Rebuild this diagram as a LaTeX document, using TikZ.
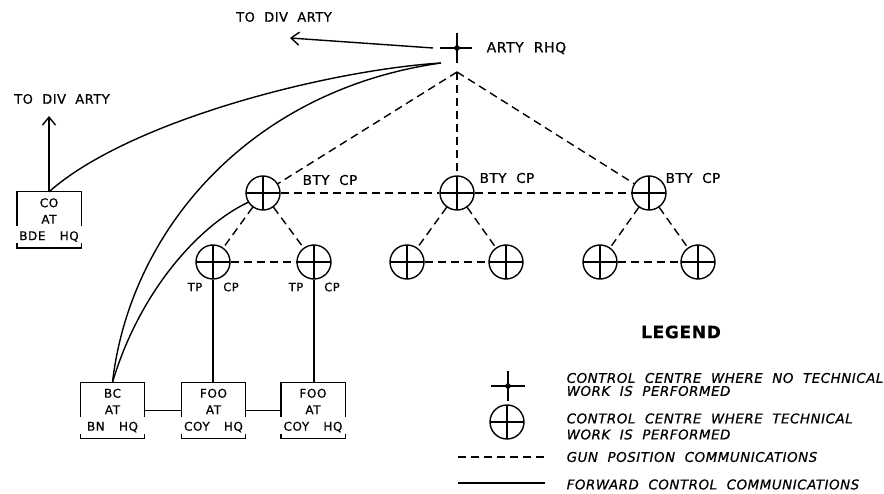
\documentclass[tikz,border=0pt]{standalone}
\usepackage{fontspec}
\setmainfont{DejaVu Sans}
\newfontfamily\lett[LetterSpace=4,WordSpace=2,FakeBold=0.6]{DejaVu Sans}
\newfontfamily\boxlett[LetterSpace=5,WordSpace=3.2,FakeBold=0.6]{DejaVu Sans}
\usetikzlibrary{arrows.meta,calc}
\newcommand\hqborder[1]{%
  \draw ($(#1.south west)+(0,-22)$) |- (#1.north east) -- ($(#1.south east)+(0,-22)$);
  \draw ($(#1.south west)+(0,-5)$) -- (#1.south west) -- (#1.south east) -- ($(#1.south east)+(0,-5)$);}
\begin{document}
\begin{tikzpicture}[x=1pt,y=-1pt,line width=1.4pt,
  every node/.style={font=\lett\fontsize{13}{14}\selectfont},
  tc/.style={circle,draw,minimum size=34pt,inner sep=0pt,
    path picture={\draw[line width=1.4pt] (path picture bounding box.north)--(path picture bounding box.south)
      (path picture bounding box.west)--(path picture bounding box.east);}},
  gunline/.style={dash pattern=on 8pt off 5pt},
  barb/.style={-{Straight Barb[length=8pt,width=13pt]}},
  hqbox/.style={minimum width=63pt,minimum height=55pt,inner sep=0pt,align=center,
    font=\boxlett\fontsize{12}{16.5}\selectfont},
  bigl/.style={font=\lett\fontsize{13}{14}\selectfont},
  btyl/.style={anchor=west,inner sep=0pt,font=\lett\fontsize{13.5}{14}\selectfont},
  tpl/.style={inner sep=0pt,font=\lett\fontsize{11.5}{12}\selectfont},
  legt/.style={anchor=west,inner sep=0pt,font=\lett\itshape\fontsize{13.4}{13}\selectfont}]
\useasboundingbox (0,0) rectangle (884,494);

% ARTY RHQ cross
\node[inner sep=0pt,minimum size=0pt] (rhq) at (457,48) {};
\draw ($(rhq)+(-17,0)$) -- ($(rhq)+(15,0)$) ($(rhq)+(0,-15)$) -- ($(rhq)+(0,15)$);
\fill (rhq) circle (2.8);
\node[anchor=west,inner sep=0pt,font=\lett\fontsize{14}{14}\selectfont] (rhql) at (486,48) {ARTY RHQ};
\coordinate (rhqw) at (433,48);
\coordinate (rhqdiv) at (290,38);
\coordinate (rhqsw) at (441,63);
\coordinate (apex) at (457,72);
\node[bigl,inner sep=0pt] (t1) at (284,17) {TO DIV ARTY};
\draw[barb] (rhqw) -- (rhqdiv);

% battery CPs
\node[tc] (bty1) at (263,193) {};
\node[tc] (bty2) at (457,193) {};
\node[tc] (bty3) at (649,193) {};
\node[btyl] (b1l) at (302,180) {BTY CP};
\node[btyl] (b2l) at (479,178) {BTY CP};
\node[btyl] (b3l) at (665,178) {BTY CP};

\node[tc] (g1a) at (213,262) {};
\node[tc] (g1b) at (314,262) {};
\node[tc] (g2a) at (407,262) {};
\node[tc] (g2b) at (506,262) {};
\node[tc] (g3a) at (600,262) {};
\node[tc] (g3b) at (698,262) {};

\node[tpl] (tp1) at (195,287) {TP};
\node[tpl] (cp1) at (231,287) {CP};
\node[tpl] (tp2) at (296,287) {TP};
\node[tpl] (cp2) at (332,287) {CP};

% gun position communications
\draw[gunline] (apex) -- (bty1);
\draw[gunline] (apex) -- (bty2);
\draw[gunline] (apex) -- (bty3);
\draw[gunline] (bty1) -- (bty2);
\draw[gunline] (bty2) -- (bty3);
\draw[gunline] (bty1) -- (g1a);
\draw[gunline] (bty1) -- (g1b);
\draw[gunline] (g1a) -- (g1b);
\draw[gunline] (bty2) -- (g2a);
\draw[gunline] (bty2) -- (g2b);
\draw[gunline] (g2a) -- (g2b);
\draw[gunline] (bty3) -- (g3a);
\draw[gunline] (bty3) -- (g3b);
\draw[gunline] (g3a) -- (g3b);

% HQ boxes
\node[hqbox] (co) at (49,220) {CO\\AT\\BDE HQ};
\node[hqbox] (bc) at (112.5,410.5) {BC\\AT\\BN HQ};
\node[hqbox] (foo1) at (213.5,410.5) {FOO\\AT\\COY HQ};
\node[hqbox] (foo2) at (313,410.5) {FOO\\AT\\COY HQ};
\hqborder{co}
\hqborder{bc}
\hqborder{foo1}
\hqborder{foo2}

\coordinate (codiv) at (49,116);
\node[bigl,inner sep=0pt] (t2) at (62,99) {TO DIV ARTY};
\draw[barb] (co.north) -- (codiv);

% forward control communications
\draw (rhqsw) .. controls (330,70) and (130,120) .. (co.north);
\draw (rhqsw) .. controls (250,90) and (130,230) .. (bc.north);
\draw (bty1.212) .. controls (200,225) and (140,290) .. (bc.north);
\draw (g1a.south) -- (g1a.south |- foo1.north);
\draw (g1b.south) -- (g1b.south |- foo2.north);
\draw (bc.east) -- (foo1.west);
\draw (foo1.east) -- (foo2.west);

% legend
\node[font=\lett\bfseries\fontsize{17}{18}\selectfont,inner sep=0pt] (leg) at (681,332) {LEGEND};
\node[inner sep=0pt,minimum size=0pt] (lx) at (508,386) {};
\draw ($(lx)+(-17,0)$) -- ($(lx)+(17,0)$) ($(lx)+(0,-15)$) -- ($(lx)+(0,15)$);
\fill (lx) circle (2.8);
\node[tc] (lc) at (507,422) {};
\coordinate (ld1) at (458,457);
\coordinate (ld2) at (545,457);
\coordinate (lf1) at (458,483);
\coordinate (lf2) at (545,483);
\draw[gunline] (ld1) -- (ld2);
\draw (lf1) -- (lf2);
\node[legt] (l1a) at (566,378) {CONTROL CENTRE WHERE NO TECHNICAL};
\node[legt] (l1b) at (566,391) {WORK IS PERFORMED};
\node[legt] (l2a) at (566,418.5) {CONTROL CENTRE WHERE TECHNICAL};
\node[legt] (l2b) at (566,434.5) {WORK IS PERFORMED};
\node[legt] (l3) at (566,457) {GUN POSITION COMMUNICATIONS};
\node[legt] (l4) at (566,484.5) {FORWARD CONTROL COMMUNICATIONS};
\end{tikzpicture}
\end{document}
